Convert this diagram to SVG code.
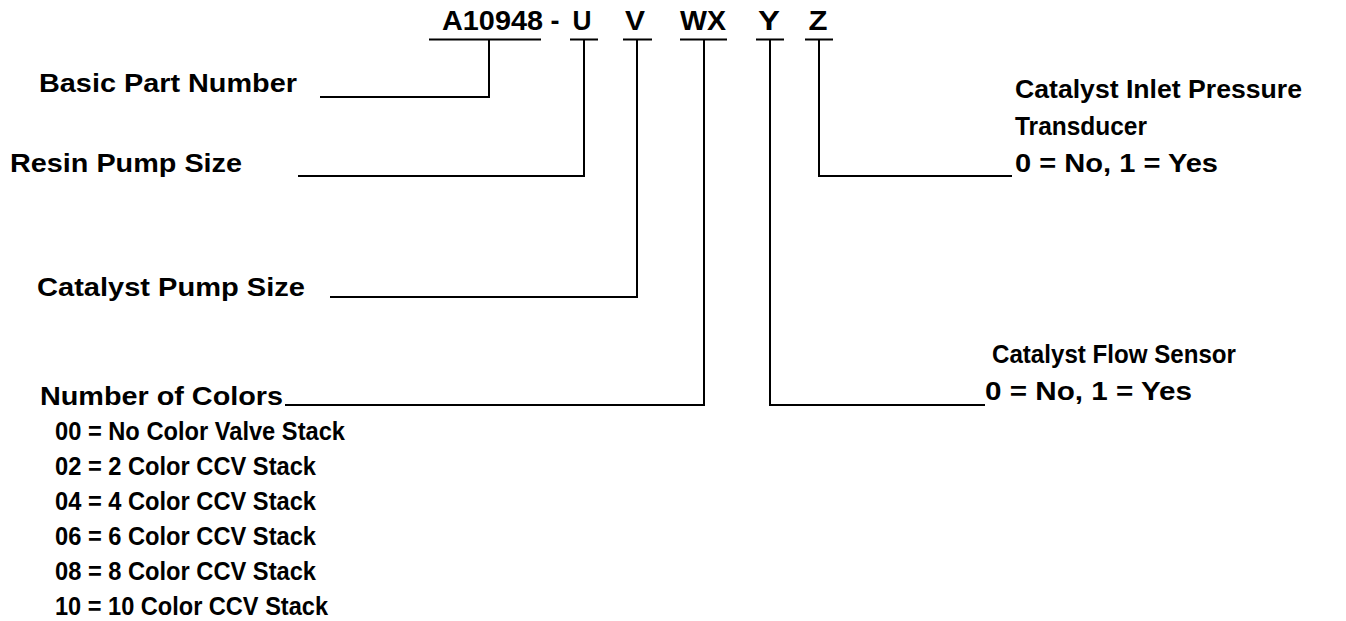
<svg xmlns="http://www.w3.org/2000/svg" width="1346" height="621" viewBox="0 0 1346 621">
<style>
text{font-family:"Liberation Sans",Arial,sans-serif;font-weight:bold;fill:#000;font-size:25px}
.top{font-size:27px;text-anchor:middle}
.ln{fill:none;stroke:#000;stroke-width:2}
</style>
<rect width="1346" height="621" fill="#fff"/>
<g id="code">
<text class="top" x="492.5" y="30" textLength="101" lengthAdjust="spacingAndGlyphs">A10948</text>
<text class="top" x="555" y="30">-</text>
<text class="top" x="582" y="30" textLength="19" lengthAdjust="spacingAndGlyphs">U</text>
<text class="top" x="635" y="30" textLength="20" lengthAdjust="spacingAndGlyphs">V</text>
<text class="top" x="703" y="30" textLength="46" lengthAdjust="spacingAndGlyphs">WX</text>
<text class="top" x="769" y="30" textLength="22" lengthAdjust="spacingAndGlyphs">Y</text>
<text class="top" x="818" y="30" textLength="19" lengthAdjust="spacingAndGlyphs">Z</text>
</g>
<g id="basic"><text x="39" y="92" textLength="258" lengthAdjust="spacingAndGlyphs">Basic Part Number</text></g>
<g id="resin"><text x="10" y="172" textLength="232" lengthAdjust="spacingAndGlyphs">Resin Pump Size</text></g>
<g id="catpump"><text x="37" y="296" textLength="268" lengthAdjust="spacingAndGlyphs">Catalyst Pump Size</text></g>
<g id="colors">
<text x="40" y="405" textLength="243" lengthAdjust="spacingAndGlyphs">Number of Colors</text>
<text x="55" y="440" textLength="290" lengthAdjust="spacingAndGlyphs">00 = No Color Valve Stack</text>
<text x="55" y="475" textLength="261" lengthAdjust="spacingAndGlyphs">02 = 2 Color CCV Stack</text>
<text x="55" y="510" textLength="261" lengthAdjust="spacingAndGlyphs">04 = 4 Color CCV Stack</text>
<text x="55" y="545" textLength="261" lengthAdjust="spacingAndGlyphs">06 = 6 Color CCV Stack</text>
<text x="55" y="580" textLength="261" lengthAdjust="spacingAndGlyphs">08 = 8 Color CCV Stack</text>
<text x="55" y="615" textLength="273" lengthAdjust="spacingAndGlyphs">10 = 10 Color CCV Stack</text>
</g>
<g id="inlet">
<text x="1015" y="98" textLength="287" lengthAdjust="spacingAndGlyphs">Catalyst Inlet Pressure</text>
<text x="1015" y="135" textLength="132" lengthAdjust="spacingAndGlyphs">Transducer</text>
<text x="1015" y="172" textLength="203" lengthAdjust="spacingAndGlyphs">0 = No, 1 = Yes</text>
</g>
<g id="flow">
<text x="992" y="363" textLength="244" lengthAdjust="spacingAndGlyphs">Catalyst Flow Sensor</text>
<text x="985" y="400" textLength="207" lengthAdjust="spacingAndGlyphs">0 = No, 1 = Yes</text>
</g>
<g id="connectors" class="ln">
<path class="ln" d="M429,39.5H541M570,39.5H598M623,39.5H652M680,39.5H727M756,39.5H784M805,39.5H833"/>
<path class="ln" d="M489,39.5V97H320"/>
<path class="ln" d="M584,39.5V176H298"/>
<path class="ln" d="M637,39.5V297H330"/>
<path class="ln" d="M704,39.5V405H285"/>
<path class="ln" d="M770,39.5V405H985"/>
<path class="ln" d="M819,39.5V176H1012"/>
</g>
</svg>
